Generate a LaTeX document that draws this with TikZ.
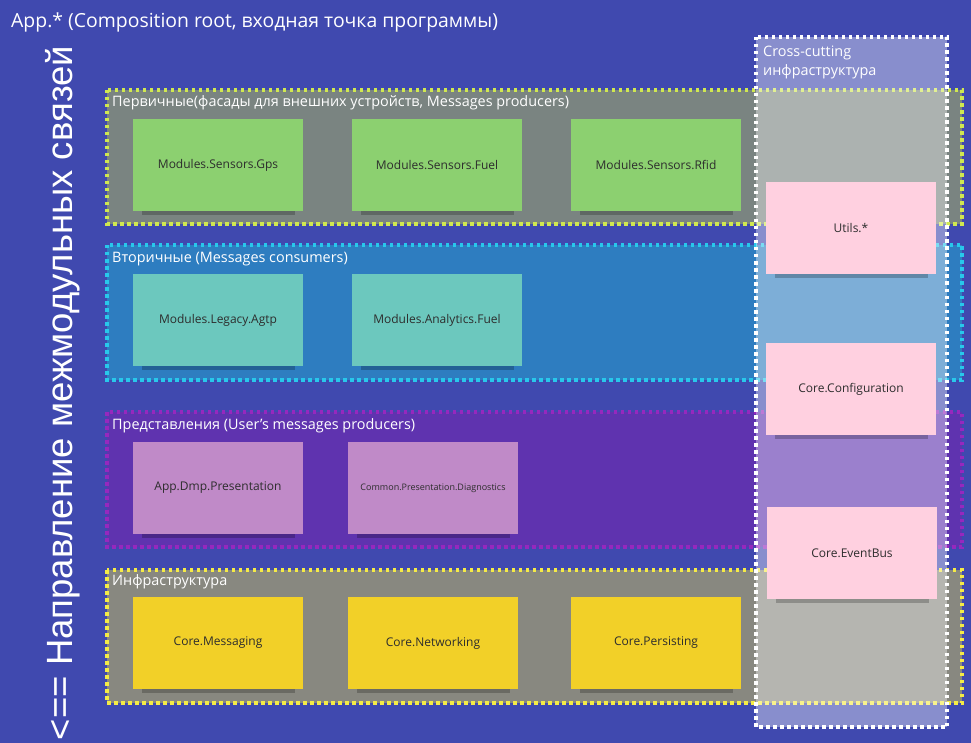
\documentclass[tikz,border=0pt]{standalone}
\usepackage{fontspec}
\setmainfont{Open Sans}
\newfontfamily\vertfont{Liberation Sans}
\usetikzlibrary{shadows}
\definecolor{bgblue}{RGB}{64,73,175}
\definecolor{bandAfill}{RGB}{122,132,129}
\definecolor{bandAline}{RGB}{208,232,80}
\definecolor{bandBfill}{RGB}{46,125,192}
\definecolor{bandBline}{RGB}{40,200,235}
\definecolor{bandCfill}{RGB}{95,51,175}
\definecolor{bandCline}{RGB}{150,40,190}
\definecolor{bandDfill}{RGB}{136,136,128}
\definecolor{bandDline}{RGB}{245,235,70}
\definecolor{notegreen}{RGB}{140,208,112}
\definecolor{noteteal}{RGB}{108,200,190}
\definecolor{notelilac}{RGB}{192,138,200}
\definecolor{noteyellow}{RGB}{242,208,40}
\definecolor{notepink}{RGB}{255,208,224}
\definecolor{notetext}{RGB}{45,45,45}
\tikzset{
  band/.style={line width=3.2pt, dash pattern=on 3.5pt off 3.5pt},
  bandlabel/.style={text=white, font=\fontsize{14.4}{16}\selectfont, anchor=west, inner sep=0pt},
  sticky/.style={minimum width=170pt, minimum height=92pt, inner sep=0pt, text=notetext,
    font=\fontsize{12}{14}\selectfont,
    drop shadow={shadow xshift=0pt, shadow yshift=-10pt, shadow scale=0.9, fill=black, opacity=0.22}},
}
\begin{document}
\begin{tikzpicture}[x=1pt,y=-1pt]
\fill[bgblue] (0,0) rectangle (971,743);
\useasboundingbox (0,0) rectangle (971,743);
% title
\node[text=white, font=\fontsize{19.4}{22}\selectfont, anchor=west, inner sep=0pt] (title) at (11,22) {App.* (Composition root, входная точка программы)};
% vertical text
\node[text=white, font=\vertfont\fontsize{36.5}{39}\selectfont, rotate=90, inner sep=0pt] (dir) at (63,393) {<== Направление межмодульных связей};
% bands
\filldraw[band, fill=bandAfill, draw=bandAline] (107,90) rectangle (962,224);
\filldraw[band, fill=bandBfill, draw=bandBline] (107,245) rectangle (962,380);
\filldraw[band, fill=bandCfill, draw=bandCline] (107,412) rectangle (962,547);
\filldraw[band, fill=bandDfill, draw=bandDline] (107,570) rectangle (962,703);
\node[bandlabel] (lblA) at (112,103) {Первичные(фасады для внешних устройств, Messages producers)};
\node[bandlabel] (lblB) at (112,259) {Вторичные (Messages consumers)};
\node[bandlabel] (lblC) at (112,426) {Представления (User's messages producers)};
\node[bandlabel] (lblD) at (112,582) {Инфраструктура};
% cross-cutting column
\fill[white, opacity=0.38] (756,37) rectangle (947,727);
\draw[white, line width=3.2pt, dash pattern=on 3.5pt off 3.5pt] (756,37) rectangle (947,727);
\node[text=white, font=\fontsize{14.4}{19}\selectfont, anchor=north west, align=left, inner sep=0pt] (cross) at (763,46) {Cross-cutting\\инфраструктура};
% sticky notes
\node[sticky, fill=notegreen] (gps) at (218,165) {Modules.Sensors.Gps};
\node[sticky, fill=notegreen] (fuel) at (437,165) {Modules.Sensors.Fuel};
\node[sticky, fill=notegreen] (rfid) at (656,165) {Modules.Sensors.Rfid};
\node[sticky, fill=noteteal] (agtp) at (218,320) {Modules.Legacy.Agtp};
\node[sticky, fill=noteteal] (anfuel) at (437,320) {Modules.Analytics.Fuel};
\node[sticky, fill=notelilac] (dmp) at (218,488) {App.Dmp.Presentation};
\node[sticky, fill=notelilac, font=\fontsize{9}{11}\selectfont] (diag) at (433,488) {Common.Presentation.Diagnostics};
\node[sticky, fill=noteyellow] (msg) at (218,643) {Core.Messaging};
\node[sticky, fill=noteyellow] (net) at (433,643) {Core.Networking};
\node[sticky, fill=noteyellow] (pers) at (656,643) {Core.Persisting};
\node[sticky, fill=notepink] (utils) at (851,228) {Utils.*};
\node[sticky, fill=notepink] (conf) at (851,389) {Core.Configuration};
\node[sticky, fill=notepink] (bus) at (852,553) {Core.EventBus};
\end{tikzpicture}
\end{document}
